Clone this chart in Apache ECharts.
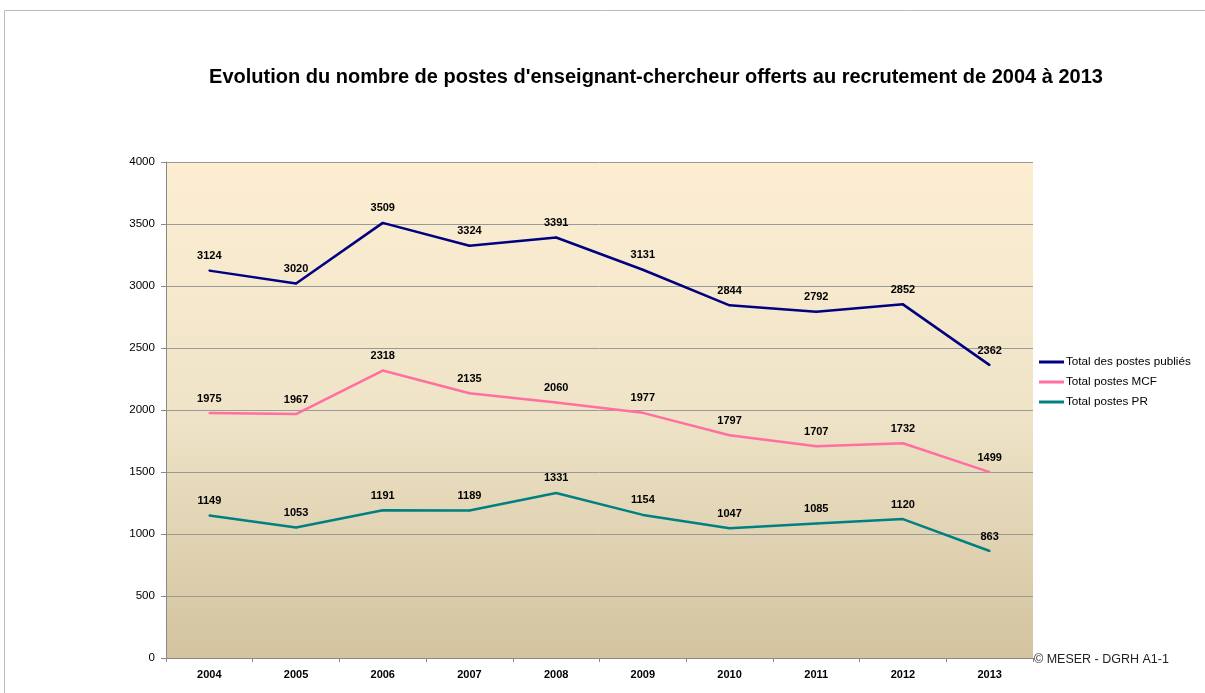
<!DOCTYPE html>
<html><head><meta charset="utf-8">
<script src="https://cdn.jsdelivr.net/npm/echarts@6/dist/echarts.min.js"></script>
<style>html,body{margin:0;padding:0;background:#fff}#c{width:1205px;height:693px}</style>
</head><body><div id="c"></div>
<script>
const years = ['2004','2005','2006','2007','2008','2009','2010','2011','2012','2013'];
const totalPublies = [3124, 3020, 3509, 3324, 3391, 3131, 2844, 2792, 2852, 2362];
const totalMCF = [1975, 1967, 2318, 2135, 2060, 1977, 1797, 1707, 1732, 1499];
const totalPR = [1149, 1053, 1191, 1189, 1331, 1154, 1047, 1085, 1120, 863];
const seriesNames = ['Total des postes publiés', 'Total postes MCF', 'Total postes PR'];
const colors = ['#000080', '#ff6f9f', '#008080'];
const titleText = "Evolution du nombre de postes d'enseignant-chercheur offerts au recrutement de 2004 à 2013";

const chart = echarts.init(document.getElementById('c'), null, {renderer: 'canvas'});
const font = 'Liberation Sans, Arial, sans-serif';
function mk(name, data, color) {
  return {
    name, type: 'line', data, symbol: 'circle', symbolSize: 2, showSymbol: true, color,
    itemStyle: {color},
    lineStyle: {width: 2.5, color},
    label: {show: true, position: 'top', distance: 8, fontFamily: font, fontWeight: 'bold', fontSize: 11, color: '#000'},
    labelLayout: {hideOverlap: false},
    emphasis: {disabled: true},
    animation: false
  };
}
chart.setOption({
  animation: false,
  textStyle: {fontFamily: font},
  grid: {
    left: 166, right: 172, top: 162, height: 496, show: true, borderWidth: 0,
    backgroundColor: new echarts.graphic.LinearGradient(0, 0, 0, 1, [
      {offset: 0, color: '#fdeed2'},
      {offset: 0.5, color: '#efe4c8'},
      {offset: 1, color: '#d3c39f'}
    ])
  },
  legend: {
    orient: 'vertical', left: 1034, top: 351, itemWidth: 25, itemHeight: 3, itemGap: 8,
    icon: 'rect',
    textStyle: {fontFamily: font, fontSize: 11.7, color: '#000', padding: [0,0,0,-3]},
    data: seriesNames
  },
  xAxis: {
    type: 'category', data: years, boundaryGap: true,
    axisLine: {lineStyle: {color: '#888', width: 1}},
    axisTick: {show: true, inside: false, length: 4, lineStyle: {color: '#888'}},
    axisLabel: {fontFamily: font, fontWeight: 'bold', fontSize: 11, color: '#000', margin: 11}
  },
  yAxis: {
    type: 'value', min: 0, max: 4000, interval: 500,
    axisLine: {show: true, lineStyle: {color: '#888', width: 1}},
    axisTick: {show: true, length: 5, lineStyle: {color: '#888'}},
    splitLine: {show: true, lineStyle: {color: '#9a9a9a', width: 1}},
    axisLabel: {fontFamily: font, fontSize: 11.6, color: '#000', margin: 11, formatter: v => String(v)}
  },
  graphic: [
    {type: 'rect', shape: {x: 4.5, y: 10.5, width: 1300, height: 800}, style: {fill: null, stroke: '#bbb', lineWidth: 1}, silent: true, z: -10},
    {type: 'text', x: 656, y: 77, style: {text: titleText, font: 'bold 20px Liberation Sans, Arial, sans-serif', fill: '#000', align: 'center', verticalAlign: 'middle'}},
    {type: 'text', left: 1034, top: 653, style: {text: '© MESER - DGRH A1-1', font: '12.5px Liberation Sans, Arial, sans-serif', fill: '#222'}}
  ],
  series: [
    mk(seriesNames[0], totalPublies, colors[0]),
    mk(seriesNames[1], totalMCF, colors[1]),
    mk(seriesNames[2], totalPR, colors[2])
  ]
});
</script></body></html>
